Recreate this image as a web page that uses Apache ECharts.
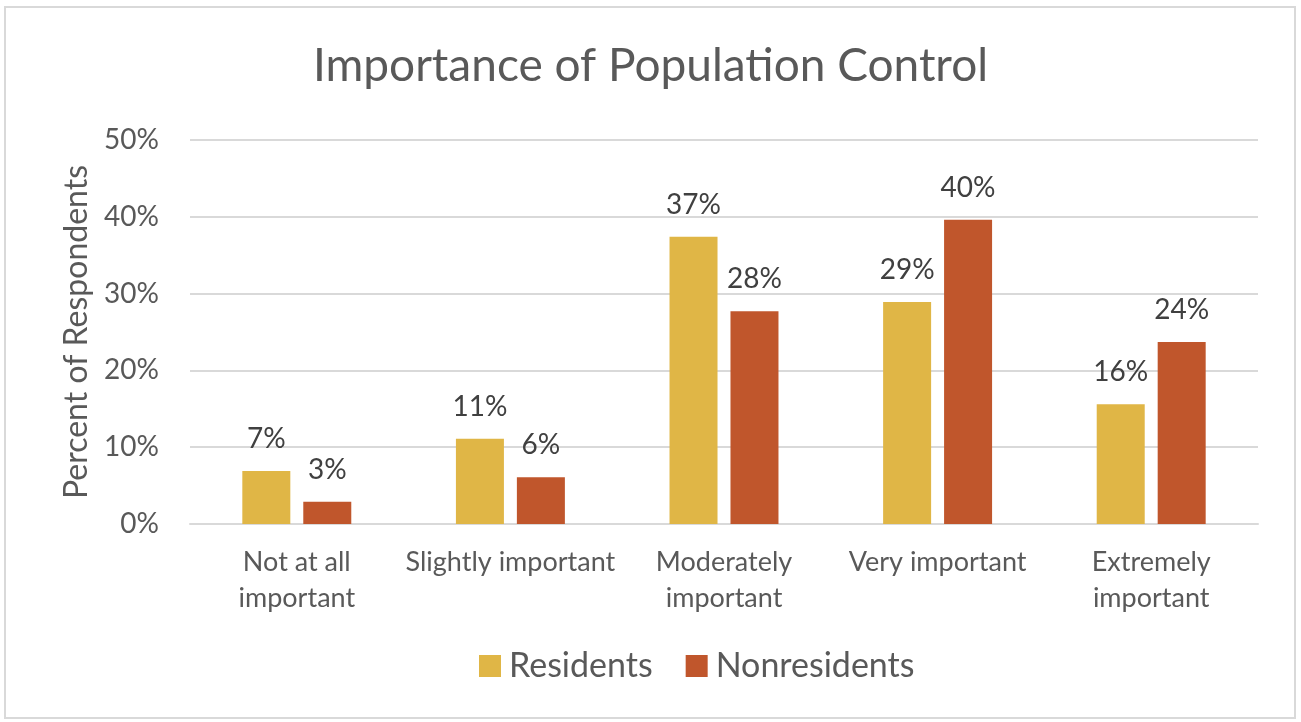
<!DOCTYPE html>
<html>
<head>
<meta charset="utf-8">
<script src="https://cdn.jsdelivr.net/npm/echarts@6/dist/echarts.min.js"></script>
<style>
  html, body { margin: 0; padding: 0; background: #fff; }
  #main { width: 1301px; height: 722px; }
</style>
</head>
<body>
<div id="main"></div>
<script>
// chart data
var categories = ['Not at all\nimportant', 'Slightly important', 'Moderately\nimportant', 'Very important', 'Extremely\nimportant'];
var residents = [6.9, 11.1, 37.4, 28.9, 15.6];
var nonresidents = [2.9, 6.1, 27.7, 39.6, 23.7];
var yTicks = [0, 10, 20, 30, 40, 50];

var textColor = '#595959';
var font = 'Lato, "Open Sans", sans-serif';

var myChart = echarts.init(document.getElementById('main'));

var barLabel = {
  show: true,
  position: 'top',
  distance: 18,
  color: '#404040',
  fontSize: 28,
  fontFamily: font,
  formatter: function (p) { return Math.round(p.value) + '%'; }
};

var option = {
  backgroundColor: '#fff',
  textStyle: { fontFamily: font },
  title: {
    text: 'Importance of Population Control',
    left: 'center',
    top: 38,
    textStyle: { color: textColor, fontSize: 46, fontWeight: 'normal', fontFamily: font }
  },
  graphic: [{
    type: 'rect',
    shape: { x: 5, y: 7, width: 1290, height: 711 },
    style: { fill: 'none', stroke: '#d9d9d9', lineWidth: 2 },
    silent: true
  }],
  legend: {
    left: 474,
    top: 644,
    itemWidth: 22,
    itemHeight: 22,
    itemGap: 33,
    icon: 'rect',
    textStyle: { color: textColor, fontSize: 34, fontFamily: font, padding: [0, 0, 0, 3] },
    data: ['Residents', 'Nonresidents']
  },
  grid: { left: 190, right: 43, top: 140, bottom: 198, containLabel: false },
  xAxis: {
    type: 'category',
    data: categories,
    axisTick: { show: false },
    axisLine: { lineStyle: { color: '#d9d9d9', width: 2 } },
    axisLabel: {
      color: textColor,
      fontSize: 27,
      fontFamily: font,
      margin: 20,
      lineHeight: 36,
      interval: 0
    }
  },
  yAxis: {
    type: 'value',
    min: yTicks[0],
    max: yTicks[yTicks.length - 1],
    interval: 10,
    name: 'Percent of Respondents',
    nameLocation: 'middle',
    nameGap: 96,
    nameTextStyle: { color: textColor, fontSize: 32, fontFamily: font },
    axisLine: { show: false },
    axisTick: { show: false },
    splitLine: { lineStyle: { color: '#d9d9d9', width: 2 } },
    axisLabel: {
      color: textColor,
      fontSize: 28,
      fontFamily: font,
      margin: 31,
      formatter: '{value}%'
    }
  },
  series: [
    {
      name: 'Residents',
      type: 'bar',
      data: residents,
      barWidth: 48,
      barGap: '27%',
      itemStyle: { color: '#E0B646' },
      label: barLabel
    },
    {
      name: 'Nonresidents',
      type: 'bar',
      data: nonresidents,
      barWidth: 48,
      itemStyle: { color: '#C0562C' },
      label: barLabel
    }
  ]
};

myChart.setOption(option);
window.addEventListener('resize', function () {
  myChart.resize();
});
</script>
</body>
</html>
